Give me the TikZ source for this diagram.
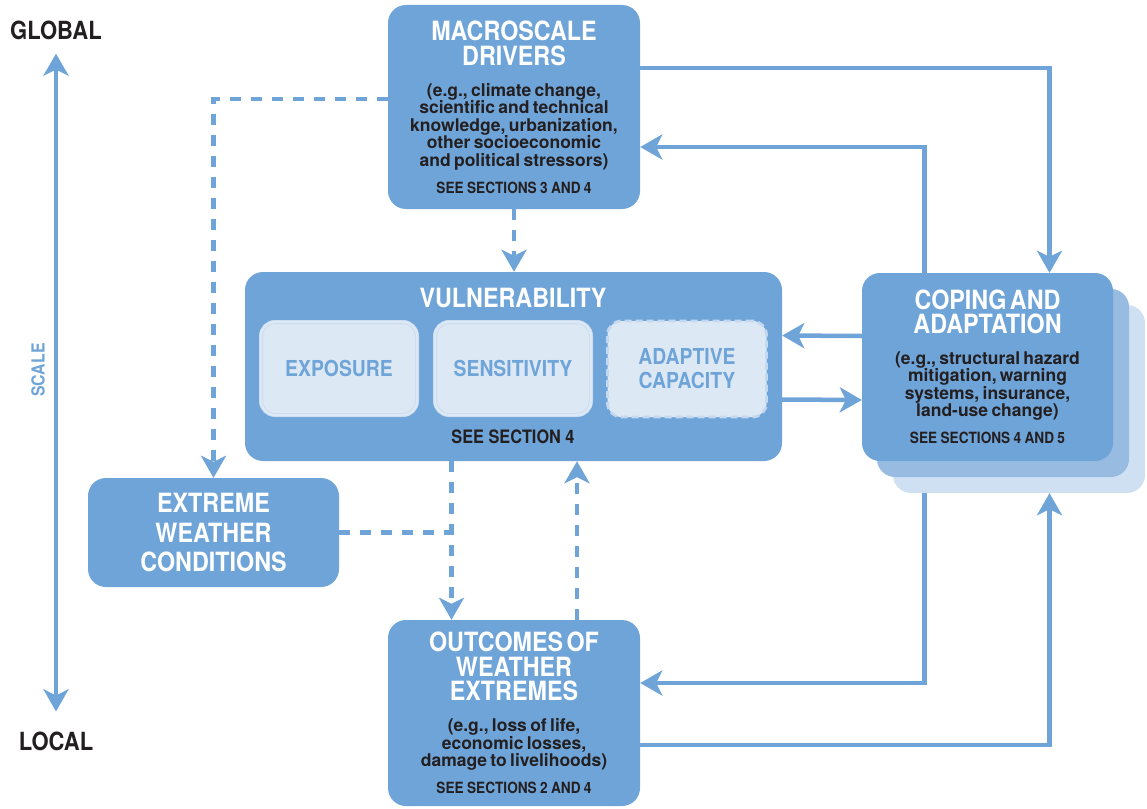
\documentclass[tikz,border=0pt]{standalone}
\usepackage{fontspec}
\setmainfont{TeX Gyre Heros}
\newfontfamily\condfont{TeX Gyre Heros}[FakeStretch=0.88]
\usepackage{xcolor}
\usepackage{tikz}
\usetikzlibrary{arrows.meta,positioning,calc}

\definecolor{vblue}{RGB}{111,164,216}
\definecolor{layertwo}{RGB}{152,187,226}
\definecolor{layerthree}{RGB}{208,224,243}
\definecolor{innerfill}{RGB}{221,232,245}
\definecolor{innerline}{RGB}{196,216,239}
\definecolor{darktext}{RGB}{35,31,32}

% text blocks inside the panels
\newcommand\panelhead[2][24]{{\condfont\bfseries\fontsize{26.5}{#1}\selectfont\color{white}#2\par}}
\newcommand\paneltext[1]{\vspace{13.5pt}{\bfseries\fontsize{17.5}{17.4}\selectfont\color{darktext}#1\par}}
\newcommand\panelsee[1]{\vspace{11pt}{\condfont\bfseries\fontsize{15.5}{15}\selectfont\color{darktext}#1\par}}

\begin{document}
\begin{tikzpicture}[
    x=1pt, y=-1pt,
    panel/.style={rectangle, rounded corners=18pt, fill=vblue, inner sep=0pt, align=center},
    layer/.style={rectangle, rounded corners=18pt, inner sep=0pt, minimum width=252pt, minimum height=188pt},
    innerbox/.style={rectangle, rounded corners=14pt, fill=innerfill, draw=innerline, line width=0.7pt, double=innerfill, double distance=2.6pt, minimum width=156pt, minimum height=93pt, inner sep=0pt, align=center, text=vblue, font=\condfont\bfseries\fontsize{22}{24}\selectfont},
    dashedbox/.style={innerbox, draw=innerline, double=none, line width=2.8pt, dash pattern=on 7pt off 4pt, minimum width=159pt, minimum height=96pt},
    headtext/.style={inner sep=0pt, text=white, font=\condfont\bfseries\fontsize{26.5}{24}\selectfont},
    seetext/.style={inner sep=0pt, text=darktext, font=\condfont\bfseries\fontsize{18.5}{18}\selectfont},
    scaleend/.style={inner sep=0pt, text=darktext, font=\condfont\bfseries\fontsize{25}{25}\selectfont},
    arrow/.style={-{Stealth[length=22pt,width=25pt,inset=6pt]}, line width=4.5pt, draw=vblue},
    twoway/.style={arrow, {Stealth[length=22pt,width=25pt,inset=6pt]}-{Stealth[length=22pt,width=25pt,inset=6pt]}},
    dasharrow/.style={arrow, dash pattern=on 11pt off 10pt},
    dashline/.style={line width=4.5pt, draw=vblue, dash pattern=on 11pt off 10pt}
]
    \fill[white] (0,0) rectangle (1147,808);
    \useasboundingbox (0,0) rectangle (1147,808);

    % Scale axis
    \node[scaleend] (global) at (56,30) {GLOBAL};
    \node[scaleend] (local) at (56,741) {LOCAL};
    \draw[twoway] ([yshift=-14pt]global.south) -- ([yshift=20pt]local.north);
    \node[rotate=90, inner sep=0pt, text=vblue, font=\condfont\bfseries\fontsize{18}{18}\selectfont] (scale) at (38,370) {SCALE};

    % Macroscale drivers
    \node[panel, text width=252pt, minimum height=204pt] (macro) at (514,107) {%
        \panelhead[25.5]{MACROSCALE\\DRIVERS}%
        \paneltext{(e.g., climate change,\\scientific and technical\\knowledge, urbanization,\\other socioeconomic\\and political stressors)}%
        \panelsee{SEE SECTIONS 3 AND 4}};

    % Vulnerability
    \node[panel, minimum width=537pt, minimum height=189pt] (vuln) at (513.5,366.5) {};
    \node[headtext] (vulntitle) at (513,298) {VULNERABILITY};
    \node[innerbox] (exposure) at (339,368.5) {EXPOSURE};
    \node[innerbox] (sensitivity) at (513,368.5) {SENSITIVITY};
    \node[dashedbox] (adaptive) at (687,369) {ADAPTIVE\\CAPACITY};
    \node[seetext] (vulnsee) at (513,437) {SEE SECTION 4};

    % Coping and adaptation (stacked)
    \node[layer, fill=layerthree] (copingback) at (1019,399) {};
    \node[layer, fill=layertwo] (copingmid) at (1003,383) {};
    \node[panel, text width=251pt, minimum height=188pt] (coping) at (987.5,367) {%
        \panelhead{COPING AND\\ADAPTATION}%
        \paneltext{(e.g., structural hazard\\mitigation, warning\\systems, insurance,\\land-use change)}%
        \panelsee{SEE SECTIONS 4 AND 5}};

    % Extreme weather conditions
    \node[panel, text width=251pt, minimum height=109pt] (extreme) at (213.5,532.5) {%
        \panelhead[29.5]{EXTREME\\WEATHER\\CONDITIONS}};

    % Outcomes of weather extremes
    \node[panel, text width=252pt, minimum height=186pt] (outcomes) at (514,713) {%
        \panelhead[24.5]{OUTCOMES OF\\WEATHER\\EXTREMES}%
        \paneltext{(e.g., loss of life,\\economic losses,\\damage to livelihoods)}%
        \panelsee{SEE SECTIONS 2 AND 4}};

    % Link points on the coping stack
    \coordinate (leftlink) at ([xshift=-63pt]coping.north);
    \coordinate (rightlink) at ([xshift=62pt]coping.north);
    \coordinate (downlink) at ([xshift=-62pt]vuln.south);

    % Arrows
    \draw[dasharrow] ([yshift=8pt]macro.west) -| (extreme.north);
    \draw[dasharrow] (macro.south) -- (macro.south |- vuln.north);
    \draw[arrow] ([yshift=39pt]macro.east) -| (rightlink);
    \draw[arrow] (leftlink) |- ([yshift=-40pt]macro.east);
    \draw[arrow] ([yshift=31pt]coping.west) -- ([yshift=31pt]vuln.east);
    \draw[arrow] ([yshift=-33pt]vuln.east) -- ([yshift=-33pt]coping.west);
    \draw[dasharrow] (downlink) -- (downlink |- outcomes.north);
    \draw[dashline] (extreme.east) -- (downlink |- extreme.east);
    \draw[dasharrow] ([xshift=63pt]outcomes.north) -- ([xshift=63pt]outcomes.north |- vuln.south);
    \draw[arrow] (leftlink |- copingback.south) |- ([yshift=30pt]outcomes.east);
    \draw[arrow] ([yshift=-32pt]outcomes.east) -| (rightlink |- copingback.south);
\end{tikzpicture}
\end{document}
